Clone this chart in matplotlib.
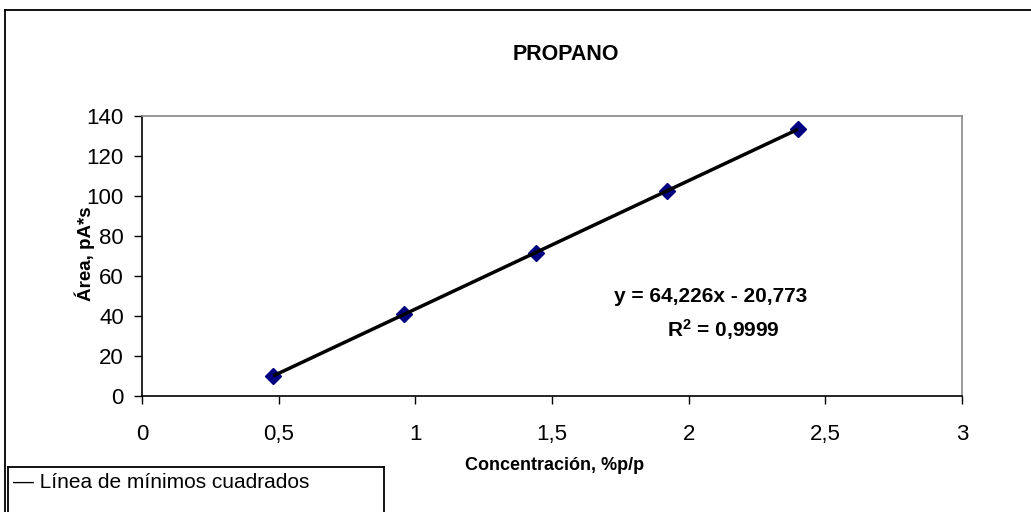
import numpy as np
import matplotlib
matplotlib.use("Agg")
import matplotlib.pyplot as plt
from matplotlib.lines import Line2D

plt.rcParams['font.family'] = ['Liberation Sans', 'DejaVu Sans']
plt.rcParams['mathtext.fontset'] = 'custom'
plt.rcParams['mathtext.rm'] = 'Liberation Sans'
plt.rcParams['mathtext.bf'] = 'Liberation Sans:bold'

# ---- data ----
conc = [0.48, 0.96, 1.44, 1.92, 2.40]
area = [10.1, 40.9, 71.7, 102.5, 133.4]
slope = 64.226
intercept = -20.773
r2_text = "0,9999"
title = "PROPANO"
xlabel = "Concentración, %p/p"
ylabel = "Área, pA*s"
legend_label = "Línea de mínimos cuadrados"
xticks = [0, 0.5, 1, 1.5, 2, 2.5, 3]
xticklabels = ["0", "0,5", "1", "1,5", "2", "2,5", "3"]
yticks = [0, 20, 40, 60, 80, 100, 120, 140]

W, H = 1031, 512
fig = plt.figure(figsize=(W / 100, H / 100), dpi=100)

def fx(px):
    return px / W

def fy(py):
    return 1 - py / H

ax = fig.add_axes([fx(142), fy(396), fx(962) - fx(142), fy(116) - fy(396)])
ax.set_xlim(0, 3)
ax.set_ylim(0, 140)

ax.plot(conc, area, linestyle='none', marker='D', ms=8.5, color='#000080',
        markeredgecolor='#000080', zorder=3)
xfit = np.array([conc[0], conc[-1]])
ax.plot(xfit, slope * xfit + intercept, color='black', lw=2.5, zorder=4,
        solid_capstyle='butt')

ax.set_xticks(xticks)
ax.set_xticklabels(xticklabels)
ax.set_yticks(yticks)
ax.tick_params(axis='both', direction='out', length=6, width=1, labelsize=16,
               color='black')
ax.tick_params(axis='x', pad=14)
ax.tick_params(axis='y', pad=7)

for s in ['top', 'right']:
    ax.spines[s].set_color('#888888')
    ax.spines[s].set_linewidth(1.2)
for s in ['left', 'bottom']:
    ax.spines[s].set_color('black')
    ax.spines[s].set_linewidth(1.2)

# titles / labels
fig.text(fx(566), fy(55), title, ha='center', va='center', fontsize=15.5,
         fontweight='bold')
fig.text(fx(555), fy(466), xlabel, ha='center', va='center', fontsize=13,
         fontweight='bold')
fig.text(fx(85), fy(254), ylabel, ha='center', va='center', fontsize=13.5,
         fontweight='bold', rotation=90)

# equation
fig.text(fx(711), fy(296), "y = 64,226x - 20,773", ha='center', va='center',
         fontsize=15, fontweight='bold')
fig.text(fx(723), fy(330), r"$\mathbf{R^{2}}$ = " + r2_text, ha='center',
         va='center', fontsize=15, fontweight='bold')

# outer chart frame (cut by the image edges)
fig.add_artist(Line2D([fx(5), 1.0], [fy(10), fy(10)], color='black', lw=1.3))
fig.add_artist(Line2D([fx(5), fx(5)], [fy(10), 0.0], color='black', lw=1.3))

# legend box
fig.add_artist(Line2D([fx(8), fx(384)], [fy(467), fy(467)], color='black', lw=1.3))
fig.add_artist(Line2D([fx(8), fx(8)], [fy(467), 0.0], color='black', lw=1.3))
fig.add_artist(Line2D([fx(384), fx(384)], [fy(467), 0.0], color='black', lw=1.3))
fig.text(fx(13), fy(483), "— " + legend_label, ha='left', va='center',
         fontsize=15)

fig.savefig("out.png", dpi=100)
